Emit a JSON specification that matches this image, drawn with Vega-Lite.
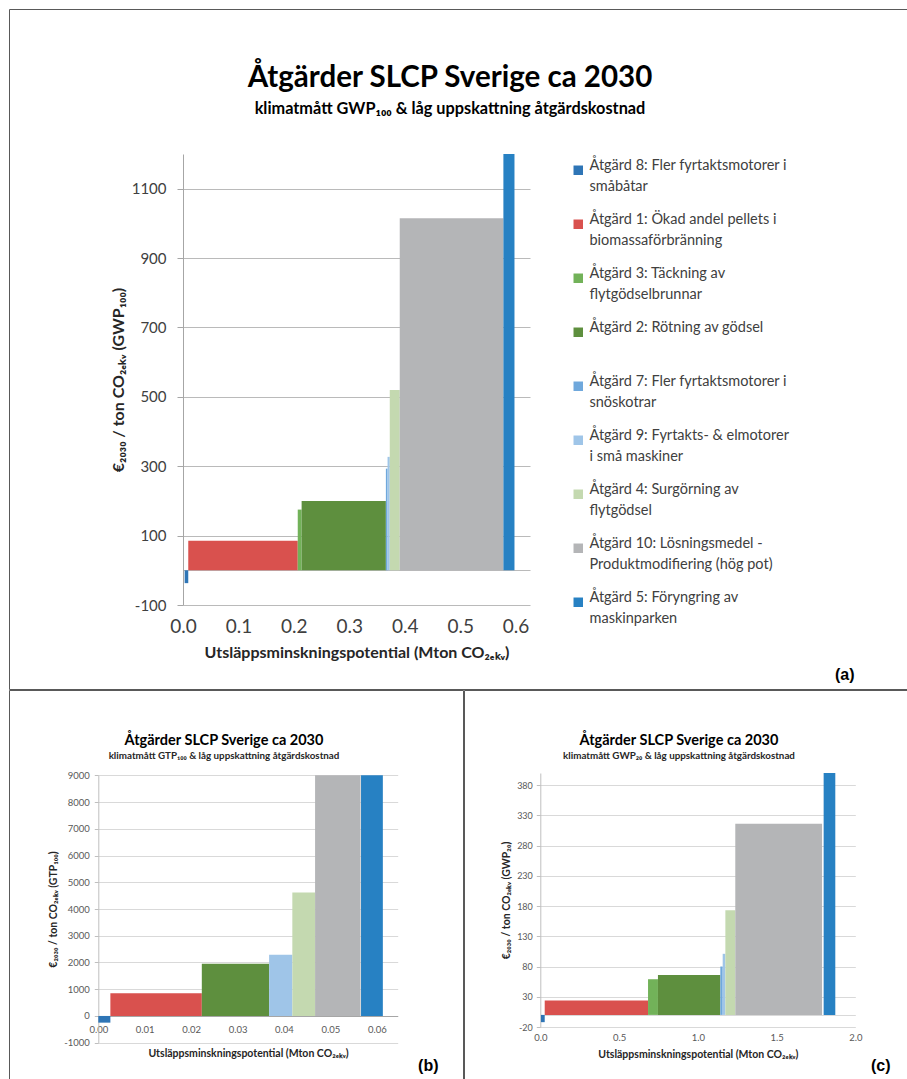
{
  "$schema": "https://vega.github.io/schema/vega-lite/v6.json",
  "background": "white",
  "padding": {"left": 8, "top": 8, "right": 0, "bottom": 0},
  "config": {
    "view": {"stroke": "#595959", "strokeWidth": 1},
    "font": "Lato",
    "axis": {"labelFont": "Lato", "titleFont": "Lato", "titleFontWeight": "bold", "titleColor": "#262626", "labelFlush": false, "labelOverlap": false},
    "style": {"guide-label": {"lineHeight": 21}}
  },
  "resolve": {"scale": {"color": "independent"}, "legend": {"color": "independent"}},
  "spacing": -1,
  "datasets": {
    "a": [
      {"atgard": "Åtgärd 8: Fler fyrtaktsmotorer i\nsmåbåtar", "x0": 0.003, "x1": 0.0095, "cost": -37},
      {"atgard": "Åtgärd 1: Ökad andel pellets i\nbiomassaförbränning", "x0": 0.0095, "x1": 0.207, "cost": 85},
      {"atgard": "Åtgärd 3: Täckning av\nflytgödselbrunnar", "x0": 0.207, "x1": 0.214, "cost": 175},
      {"atgard": "Åtgärd 2: Rötning av gödsel", "x0": 0.214, "x1": 0.366, "cost": 200},
      {"atgard": "Åtgärd 7: Fler fyrtaktsmotorer i\nsnöskotrar", "x0": 0.366, "x1": 0.369, "cost": 293},
      {"atgard": "Åtgärd 9: Fyrtakts- & elmotorer\ni små maskiner", "x0": 0.369, "x1": 0.373, "cost": 327},
      {"atgard": "Åtgärd 4: Surgörning av\nflytgödsel", "x0": 0.373, "x1": 0.391, "cost": 520},
      {"atgard": "Åtgärd 10: Lösningsmedel -\nProduktmodifiering (hög pot)", "x0": 0.391, "x1": 0.578, "cost": 1015},
      {"atgard": "Åtgärd 5: Föryngring av\nmaskinparken", "x0": 0.578, "x1": 0.598, "cost": 1200}
    ],
    "b": [
      {"atgard": "Åtgärd 8: Fler fyrtaktsmotorer i\nsmåbåtar", "x0": 0.0, "x1": 0.0026, "cost": -250},
      {"atgard": "Åtgärd 1: Ökad andel pellets i\nbiomassaförbränning", "x0": 0.0026, "x1": 0.0223, "cost": 850},
      {"atgard": "Åtgärd 2: Rötning av gödsel", "x0": 0.0223, "x1": 0.0368, "cost": 1950},
      {"atgard": "Åtgärd 9: Fyrtakts- & elmotorer\ni små maskiner", "x0": 0.0368, "x1": 0.0418, "cost": 2290},
      {"atgard": "Åtgärd 4: Surgörning av\nflytgödsel", "x0": 0.0418, "x1": 0.0467, "cost": 4620},
      {"atgard": "Åtgärd 10: Lösningsmedel -\nProduktmodifiering (hög pot)", "x0": 0.0467, "x1": 0.0565, "cost": 9000},
      {"atgard": "Åtgärd 5: Föryngring av\nmaskinparken", "x0": 0.0566, "x1": 0.0613, "cost": 9000}
    ],
    "c": [
      {"atgard": "Åtgärd 8: Fler fyrtaktsmotorer i\nsmåbåtar", "x0": 0.004, "x1": 0.028, "cost": -12},
      {"atgard": "Åtgärd 1: Ökad andel pellets i\nbiomassaförbränning", "x0": 0.028, "x1": 0.684, "cost": 24},
      {"atgard": "Åtgärd 3: Täckning av\nflytgödselbrunnar", "x0": 0.684, "x1": 0.747, "cost": 59},
      {"atgard": "Åtgärd 2: Rötning av gödsel", "x0": 0.747, "x1": 1.143, "cost": 66},
      {"atgard": "Åtgärd 7: Fler fyrtaktsmotorer i\nsnöskotrar", "x0": 1.143, "x1": 1.158, "cost": 80},
      {"atgard": "Åtgärd 9: Fyrtakts- & elmotorer\ni små maskiner", "x0": 1.158, "x1": 1.175, "cost": 101},
      {"atgard": "Åtgärd 4: Surgörning av\nflytgödsel", "x0": 1.175, "x1": 1.238, "cost": 173},
      {"atgard": "Åtgärd 10: Lösningsmedel -\nProduktmodifiering (hög pot)", "x0": 1.238, "x1": 1.789, "cost": 316},
      {"atgard": "Åtgärd 5: Föryngring av\nmaskinparken", "x0": 1.799, "x1": 1.873, "cost": 400}
    ]
  },
  "vconcat": [
    {
      "spacing": -1,
      "title": {"text": "(a)", "orient": "bottom", "anchor": "end", "frame": "bounds", "offset": -23, "dx": -53, "font": "Liberation Sans", "fontSize": 16, "fontWeight": "bold", "color": "#000000"},
      "hconcat": [
        {
          "width": 898,
          "height": 680,
          "data": {"name": "a"},
          "title": {
            "text": "Åtgärder SLCP Sverige ca 2030",
            "subtitle": "klimatmått GWP₁₀₀ & låg uppskattning åtgärdskostnad",
            "anchor": "middle", "frame": "group", "orient": "top", "offset": -109, "dx": -8,
            "font": "Lato", "fontSize": 29.5, "fontWeight": "bold", "color": "#000000",
            "subtitleFont": "Lato", "subtitleFontSize": 16.3, "subtitleFontWeight": "bold", "subtitleColor": "#000000", "subtitlePadding": 7
          },
          "mark": {"type": "rect"},
          "encoding": {
            "x": {
              "field": "x0", "type": "quantitative",
              "scale": {"domain": [0, 0.626], "range": [174, 521], "nice": false, "zero": false},
              "axis": {
                "orient": "bottom", "offset": -84, "values": [0, 0.1, 0.2, 0.3, 0.4, 0.5, 0.6], "format": ".1f",
                "domain": false, "ticks": false, "tickSize": 0, "grid": false,
                "labelFontSize": 19, "labelColor": "#404040", "labelPadding": 12,
                "title": "Utsläppsminskningspotential  (Mton CO₂ₑₖᵥ)", "titleFontSize": 16, "titlePadding": 8
              }
            },
            "x2": {"field": "x1"},
            "y": {
              "field": "cost", "type": "quantitative",
              "scale": {"domain": [-100, 1200], "range": [596, 145], "nice": false, "zero": false},
              "axis": {
                "orient": "left", "offset": -174, "values": [-100, 0, 100, 300, 500, 700, 900, 1100],
                "labelExpr": "datum.value === 0 ? '' : '' + datum.value",
                "domain": true, "domainColor": "#a6a6a6", "ticks": true, "tickSize": 6, "tickColor": "#a6a6a6",
                "tickOpacity": {"condition": {"test": "datum.value === 0", "value": 0}, "value": 1},
                "grid": true, "gridColor": "#bababa", "gridWidth": 1.2,
                "labelFontSize": 15, "labelColor": "#404040", "labelPadding": 11,
                "title": "€₂₀₃₀ / ton CO₂ₑₖᵥ (GWP₁₀₀)", "titleFontSize": 16, "titlePadding": 5
              }
            },
            "y2": {"datum": 0},
            "color": {
              "field": "atgard", "type": "nominal",
              "scale": {
                "domain": [
                  "Åtgärd 8: Fler fyrtaktsmotorer i\nsmåbåtar",
                  "Åtgärd 1: Ökad andel pellets i\nbiomassaförbränning",
                  "Åtgärd 3: Täckning av\nflytgödselbrunnar",
                  "Åtgärd 2: Rötning av gödsel",
                  "Åtgärd 7: Fler fyrtaktsmotorer i\nsnöskotrar",
                  "Åtgärd 9: Fyrtakts- & elmotorer\ni små maskiner",
                  "Åtgärd 4: Surgörning av\nflytgödsel",
                  "Åtgärd 10: Lösningsmedel -\nProduktmodifiering (hög pot)",
                  "Åtgärd 5: Föryngring av\nmaskinparken"
                ],
                "range": ["#2e75b6", "#d9514e", "#72b259", "#5e8f3e", "#6fa8dc", "#9fc5e8", "#c4d9b0", "#b4b5b7", "#2781c3"]
              },
              "legend": {
                "orient": "none", "legendX": 562, "legendY": 154, "title": null, "padding": 0,
                "symbolType": "square", "symbolSize": 90, "symbolStrokeWidth": 0, "symbolOpacity": 1,
                "labelFont": "Lato", "labelFontSize": 14.5, "labelColor": "#404040", "labelLimit": 400, "labelOffset": 4,
                "labelBaseline": "alphabetic", "rowPadding": 18, "gridAlign": "all",
                "labelExpr": "indexof(datum.label, '\\n') < 0 ? [datum.label, ' '] : split(datum.label, '\\n')"
              }
            }
          }
        }
      ]
    },
    {
      "spacing": -1,
      "hconcat": [
        {
          "spacing": -1,
          "title": {"text": "(b)", "orient": "bottom", "anchor": "end", "frame": "bounds", "offset": -23, "dx": -25, "font": "Liberation Sans", "fontSize": 16, "fontWeight": "bold", "color": "#000000"},
          "hconcat": [
            {
              "width": 454,
              "height": 390,
              "data": {"name": "b"},
              "title": {
                "text": "Åtgärder SLCP Sverige  ca 2030",
                "subtitle": "klimatmått GTP₁₀₀ & låg uppskattning åtgärdskostnad",
                "anchor": "middle", "frame": "group", "orient": "top", "offset": -72, "dx": -12,
                "font": "Lato", "fontSize": 14.5, "fontWeight": "bold", "color": "#000000",
                "subtitleFont": "Lato", "subtitleFontSize": 9.8, "subtitleFontWeight": "bold", "subtitleColor": "#262626", "subtitlePadding": 3
              },
              "mark": {"type": "rect"},
              "encoding": {
                "x": {
                  "field": "x0", "type": "quantitative",
                  "scale": {"domain": [0, 0.0645], "range": [89.3, 388.7], "nice": false, "zero": false},
                  "axis": {
                    "orient": "bottom", "offset": -64, "values": [0, 0.01, 0.02, 0.03, 0.04, 0.05, 0.06], "format": ".2f",
                    "domain": true, "domainColor": "#a6a6a6", "ticks": false, "tickSize": 0, "grid": false,
                    "labelFontSize": 9.5, "labelColor": "#595959", "labelPadding": 8,
                    "title": "Utsläppsminskningspotential (Mton CO₂ₑₖᵥ)", "titleFontSize": 10.5, "titlePadding": 15
                  }
                },
                "x2": {"field": "x1"},
                "y": {
                  "field": "cost", "type": "quantitative",
                  "scale": {"domain": [-1000, 9000], "range": [352.7, 85.3], "nice": false, "zero": false},
                  "axis": {
                    "orient": "left", "offset": -89.3, "values": [-1000, 0, 1000, 2000, 3000, 4000, 5000, 6000, 7000, 8000, 9000],
                    "labelExpr": "'' + datum.value",
                    "domain": true, "domainColor": "#bfbfbf", "ticks": true, "tickSize": 4, "tickColor": "#bfbfbf",
                    "grid": true, "gridColor": "#d9d9d9",
                    "labelFontSize": 9.5, "labelColor": "#595959", "labelPadding": 5,
                    "title": "€₂₀₃₀ / ton CO₂ₑₖᵥ (GTP₁₀₀)", "titleFontSize": 10.5, "titlePadding": 5
                  }
                },
                "y2": {"datum": 0},
                "color": {
                  "field": "atgard", "type": "nominal",
                  "scale": {
                    "domain": [
                      "Åtgärd 8: Fler fyrtaktsmotorer i\nsmåbåtar",
                      "Åtgärd 1: Ökad andel pellets i\nbiomassaförbränning",
                      "Åtgärd 3: Täckning av\nflytgödselbrunnar",
                      "Åtgärd 2: Rötning av gödsel",
                      "Åtgärd 7: Fler fyrtaktsmotorer i\nsnöskotrar",
                      "Åtgärd 9: Fyrtakts- & elmotorer\ni små maskiner",
                      "Åtgärd 4: Surgörning av\nflytgödsel",
                      "Åtgärd 10: Lösningsmedel -\nProduktmodifiering (hög pot)",
                      "Åtgärd 5: Föryngring av\nmaskinparken"
                    ],
                    "range": ["#2e75b6", "#d9514e", "#72b259", "#5e8f3e", "#6fa8dc", "#9fc5e8", "#c4d9b0", "#b4b5b7", "#2781c3"]
                  },
                  "legend": null
                }
              }
            }
          ]
        },
        {
          "spacing": -1,
          "title": {"text": "(c)", "orient": "bottom", "anchor": "end", "frame": "bounds", "offset": -23, "dx": -18, "font": "Liberation Sans", "fontSize": 16, "fontWeight": "bold", "color": "#000000"},
          "hconcat": [
            {
              "width": 444,
              "height": 390,
              "data": {"name": "c"},
              "title": {
                "text": "Åtgärder SLCP Sverige ca 2030",
                "subtitle": "klimatmått GWP₂₀ & låg uppskattning åtgärdskostnad",
                "anchor": "middle", "frame": "group", "orient": "top", "offset": -72, "dx": -7,
                "font": "Lato", "fontSize": 14.5, "fontWeight": "bold", "color": "#000000",
                "subtitleFont": "Lato", "subtitleFontSize": 9.8, "subtitleFontWeight": "bold", "subtitleColor": "#262626", "subtitlePadding": 3
              },
              "mark": {"type": "rect"},
              "encoding": {
                "x": {
                  "field": "x0", "type": "quantitative",
                  "scale": {"domain": [0, 2], "range": [76.3, 391.3], "nice": false, "zero": false},
                  "axis": {
                    "orient": "bottom", "offset": -53, "values": [0, 0.5, 1, 1.5, 2], "format": ".1f",
                    "domain": false, "ticks": false, "tickSize": 0, "grid": false,
                    "labelFontSize": 9.5, "labelColor": "#595959", "labelPadding": 5,
                    "title": "Utsläppsminskningspotential (Mton CO₂ₑₖᵥ)", "titleFontSize": 10.5, "titlePadding": 8
                  }
                },
                "x2": {"field": "x1"},
                "y": {
                  "field": "cost", "type": "quantitative",
                  "scale": {"domain": [-20, 400], "range": [337, 83], "nice": false, "zero": false},
                  "axis": {
                    "orient": "left", "offset": -76.3, "values": [-20, 0, 30, 80, 130, 180, 230, 280, 330, 380],
                    "labelExpr": "datum.value === 0 ? '' : '' + datum.value",
                    "domain": true, "domainColor": "#bfbfbf", "ticks": true, "tickSize": 4, "tickColor": "#bfbfbf",
                    "tickOpacity": {"condition": {"test": "datum.value === 0", "value": 0}, "value": 1},
                    "grid": true, "gridColor": "#d9d9d9",
                    "labelFontSize": 9, "labelColor": "#595959", "labelPadding": 4,
                    "title": "€₂₀₃₀ / ton CO₂ₑₖᵥ (GWP₂₀)", "titleFontSize": 10.5, "titlePadding": 5
                  }
                },
                "y2": {"datum": 0},
                "color": {
                  "field": "atgard", "type": "nominal",
                  "scale": {
                    "domain": [
                      "Åtgärd 8: Fler fyrtaktsmotorer i\nsmåbåtar",
                      "Åtgärd 1: Ökad andel pellets i\nbiomassaförbränning",
                      "Åtgärd 3: Täckning av\nflytgödselbrunnar",
                      "Åtgärd 2: Rötning av gödsel",
                      "Åtgärd 7: Fler fyrtaktsmotorer i\nsnöskotrar",
                      "Åtgärd 9: Fyrtakts- & elmotorer\ni små maskiner",
                      "Åtgärd 4: Surgörning av\nflytgödsel",
                      "Åtgärd 10: Lösningsmedel -\nProduktmodifiering (hög pot)",
                      "Åtgärd 5: Föryngring av\nmaskinparken"
                    ],
                    "range": ["#2e75b6", "#d9514e", "#72b259", "#5e8f3e", "#6fa8dc", "#9fc5e8", "#c4d9b0", "#b4b5b7", "#2781c3"]
                  },
                  "legend": null
                }
              }
            }
          ]
        }
      ]
    }
  ]
}
